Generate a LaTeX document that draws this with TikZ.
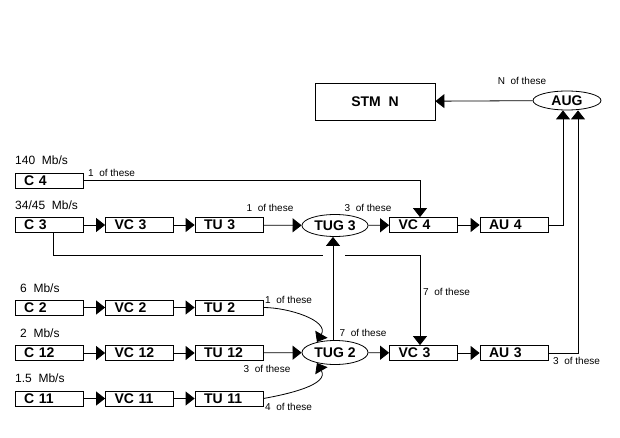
\documentclass[tikz,border=0pt]{standalone}
\usepackage{fontspec}
\setmainfont{Liberation Sans}
\usetikzlibrary{shapes.geometric,arrows.meta}
\begin{document}
\begin{tikzpicture}[x=1pt,y=-1pt,
    unit/.style={draw, line width=0.8pt, minimum height=15pt, inner xsep=9pt, inner ysep=0pt,
      text width=50pt, align=left, font=\fontsize{14}{14}\selectfont\bfseries},
    group/.style={ellipse, draw, line width=0.8pt, inner sep=0pt, minimum width=66pt,
      minimum height=22pt, font=\fontsize{14}{14}\selectfont\bfseries},
    rate/.style={anchor=west, inner sep=0pt, font=\fontsize{12}{12}\selectfont},
    count/.style={inner sep=0pt, font=\fontsize{10}{10}\selectfont},
    arr/.style={line width=0.8pt, -{Triangle[length=9pt,width=14pt]}},
    wire/.style={line width=0.8pt}]
    \useasboundingbox (0,0) rectangle (620,438);

    % 上段
    \node[draw, line width=0.8pt, minimum width=120pt, minimum height=37pt,
      font=\fontsize{14}{14}\selectfont\bfseries] (stm) at (375,101.5) {STM\ \ N};
    \node[group, minimum width=68pt, minimum height=19pt] (aug) at (567,100.5) {AUG};
    \node[count] (naug) at (522,81) {N\ \ of these};

    % 140 Mb/s と 34/45 Mb/s
    \node[rate] (r140) at (15,160) {140\ \ Mb/s};
    \node[unit] (c4) at (49,180.5) {C 4};
    \node[count, anchor=west] (nc4) at (88,173) {1\ \ of these};
    \node[rate] (r34) at (15,205) {34/45\ \ Mb/s};
    \node[unit] (c3) at (49,225) {C 3};
    \node[unit] (vc3) at (139.5,225) {VC 3};
    \node[unit] (tu3) at (229,225) {TU 3};
    \node[count] (ntu3) at (270,208) {1\ \ of these};
    \node[group] (tug3) at (335,225.5) {TUG 3};
    \node[count] (ntug3) at (368,208) {3\ \ of these};
    \node[unit] (vc4) at (423.5,225) {VC 4};
    \node[unit] (au4) at (514,225) {AU 4};

    % 下段
    \node[rate] (r6) at (20,288) {6\ \ Mb/s};
    \node[unit] (c2) at (49,307.5) {C 2};
    \node[unit] (vc2) at (139.5,307.5) {VC 2};
    \node[unit] (tu2) at (229,307.5) {TU 2};
    \node[count, anchor=west] (ntu2) at (265,300) {1\ \ of these};
    \node[rate] (r2) at (20,333) {2\ \ Mb/s};
    \node[unit] (c12) at (49,353) {C 12};
    \node[unit] (vc12) at (139.5,353) {VC 12};
    \node[unit] (tu12) at (229,353) {TU 12};
    \node[count] (ntu12) at (267,369) {3\ \ of these};
    \node[group, minimum height=24pt] (tug2) at (335,352.5) {TUG 2};
    \node[count] (ntug2) at (363,333) {7\ \ of these};
    \node[count, anchor=west] (nvc3) at (423,292) {7\ \ of these};
    \node[unit] (vc3b) at (423.5,353) {VC 3};
    \node[unit] (au3) at (514,353) {AU 3};
    \node[count, anchor=west] (nau3) at (553,361) {3\ \ of these};
    \node[rate] (r15) at (15,378) {1.5\ \ Mb/s};
    \node[unit] (c11) at (49,398.5) {C 11};
    \node[unit] (vc11) at (139.5,398.5) {VC 11};
    \node[unit] (tu11) at (229,398.5) {TU 11};
    \node[count, anchor=west] (ntu11) at (265,407) {4\ \ of these};

    % 線の切れ目
    \coordinate (hopL) at (323,255);
    \coordinate (hopR) at (345,255);

    % 矢印
    \draw[arr] (aug) -- (stm);
    \draw[arr] (c4) -| ([xshift=-3.5pt]vc4.north);
    \draw[arr] (c3) -- (vc3);
    \draw[arr] (vc3) -- (tu3);
    \draw[arr] (tu3) -- (tug3);
    \draw[arr] (tug3) -- (vc4);
    \draw[arr] (vc4) -- (au4);
    \draw[arr] (au4) -| ([xshift=-4pt]aug.south);
    \draw[arr] (au3) -| ([xshift=11pt]aug.south);

    \draw[arr] (c2) -- (vc2);
    \draw[arr] (vc2) -- (tu2);
    \draw[arr] (c12) -- (vc12);
    \draw[arr] (vc12) -- (tu12);
    \draw[arr] (tu12) -- (tug2);
    \draw[arr] (tug2) -- (vc3b);
    \draw[arr] (vc3b) -- (au3);
    \draw[arr] (c11) -- (vc11);
    \draw[arr] (vc11) -- (tu11);
    \draw[arr] (tu2.east) to[out=0,in=60] (tug2.150);
    \draw[arr] (tu11.east) to[out=10,in=-60] (tug2.210);
    \draw[arr] ([xshift=-2pt]tug2.north) -- ([xshift=-2pt]tug3.south);

    \draw[wire] ([xshift=4pt]c3.south) |- (hopL);
    \draw[arr] (hopR) -| ([xshift=-3.5pt]vc3b.north);
\end{tikzpicture}
\end{document}
